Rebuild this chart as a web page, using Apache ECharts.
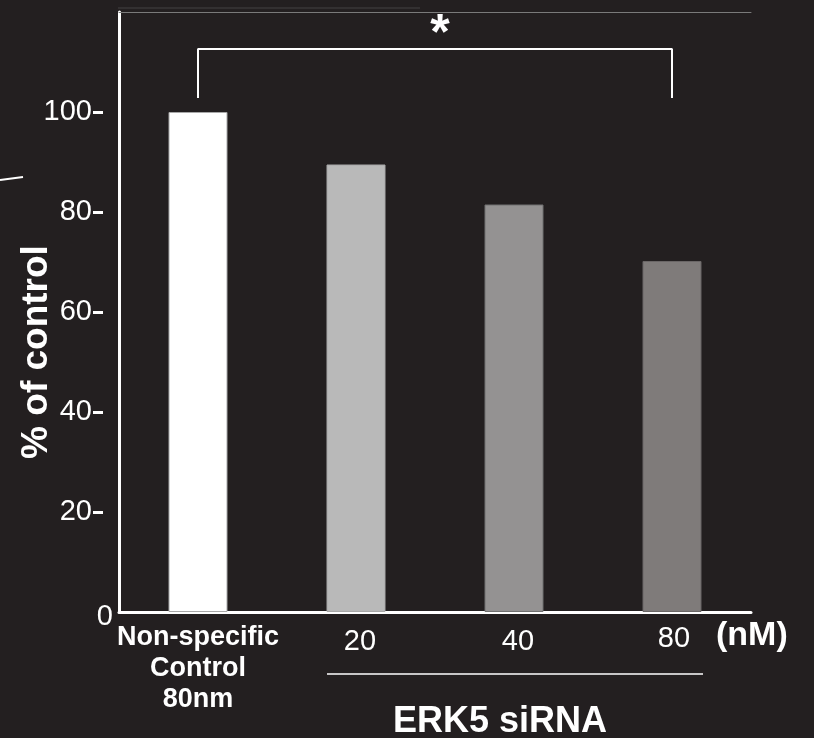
<!DOCTYPE html>
<html>
<head>
<meta charset="utf-8">
<script src="https://cdn.jsdelivr.net/npm/echarts@6/dist/echarts.min.js"></script>
<style>
html,body{margin:0;padding:0;background:#231f20;}
#c{width:814px;height:738px;}
</style>
</head>
<body>
<div id="c"></div>
<script>
const categories = ['Non-specific\nControl\n80nm', '20', '40', '80'];
const values = [100, 89.5, 81.5, 70.2];
const barColors = ['#ffffff', '#b9b9b9', '#949292', '#7f7b7a'];
const barBorders = ['#a8a8a8', '#a8a8a8', '#707070', '#6a6666'];
const yTicks = [20, 40, 60, 80, 100];
const yLabels = [20, 40, 60, 80, 100];
const bracket = [[0, 102.8], [0, 112.6], [3, 112.6], [3, 102.8]];
const sigText = '*';

const FONT = '"Liberation Sans", Arial, Helvetica, sans-serif';
const chart = echarts.init(document.getElementById('c'));

chart.setOption({
  backgroundColor: '#231f20',
  animation: false,
  grid: { left: 119, top: 12, width: 632, height: 600 },
  xAxis: [{
    type: 'category',
    data: categories,
    position: 'bottom',
    axisLine: { lineStyle: { color: '#ffffff', width: 3 } },
    axisTick: { show: false },
    axisLabel: {
      margin: 10,
      interval: 0,
      fontFamily: FONT,
      formatter: function (v, i) {
        if (i === 0) return '{a|' + v.split('\n').join('}\n{a|') + '}';
        if (i === 3) return '{c|' + v + '}';
        return '{b|' + v + '}';
      },
      rich: {
        a: { color: '#ffffff', fontSize: 27, fontWeight: 'bold', lineHeight: 31, fontFamily: FONT },
        b: { color: '#ffffff', fontSize: 29, lineHeight: 34, padding: [6, 0, 0, 8], fontFamily: FONT },
        c: { color: '#ffffff', fontSize: 29, lineHeight: 34, padding: [0, 0, 0, 4], fontFamily: FONT }
      }
    }
  }, {
    type: 'category',
    data: categories,
    position: 'top',
    axisLine: { onZero: false, lineStyle: { color: '#7a7a7a', width: 1 } },
    axisTick: { show: false },
    axisLabel: { show: false }
  }],
  yAxis: [{
    type: 'value',
    min: 0, max: 120, interval: 20,
    position: 'left',
    splitLine: { show: false },
    axisLine: { show: true, onZero: false, lineStyle: { color: '#ffffff', width: 3 } },
    axisTick: { show: false },
    axisLabel: {
      customValues: [0],
      margin: 6,
      color: '#ffffff', fontSize: 29, fontFamily: FONT,
      verticalAlign: 'top', padding: [-10, 0, 0, 0]
    }
  }, {
    type: 'value',
    min: 0, max: 120, interval: 20,
    position: 'left',
    offset: 16,
    splitLine: { show: false },
    axisLine: { show: false },
    axisTick: { show: true, length: 10, customValues: yTicks, lineStyle: { color: '#ffffff', width: 3 } },
    axisLabel: {
      customValues: yLabels,
      margin: 11,
      color: '#ffffff', fontSize: 29, fontFamily: FONT
    }
  }],
  series: [{
    type: 'bar',
    xAxisIndex: 0, yAxisIndex: 0,
    barWidth: 59,
    data: values.map((v, i) => ({
      value: v,
      itemStyle: { color: barColors[i], borderColor: barBorders[i], borderWidth: 1 }
    }))
  }, {
    type: 'line',
    xAxisIndex: 0, yAxisIndex: 0,
    data: bracket,
    symbol: 'none',
    lineStyle: { color: '#ffffff', width: 2 },
    z: 5
  }],
  graphic: [
    { type: 'text', x: 37, y: 352, rotation: Math.PI / 2,
      style: { text: '% of control', fill: '#ffffff', fontSize: 37, fontWeight: 'bold', fontFamily: FONT, align: 'center', verticalAlign: 'middle' } },
    { type: 'text', x: 440, y: 35, style: { text: sigText, fill: '#ffffff', fontSize: 50, fontWeight: 'bold', fontFamily: FONT, align: 'center', verticalAlign: 'middle' } },
    { type: 'text', left: 716, top: 619, style: { text: '(nM)', fill: '#ffffff', fontSize: 34, fontWeight: 'bold', fontFamily: FONT } },
    { type: 'line', shape: { x1: 327, y1: 674, x2: 703, y2: 674 }, style: { stroke: '#ffffff', lineWidth: 1.5 } },
    { type: 'text', left: 393, top: 704, style: { text: 'ERK5 siRNA', fill: '#ffffff', fontSize: 36, fontWeight: 'bold', fontFamily: FONT } },
    { type: 'line', shape: { x1: 0, y1: 180, x2: 23, y2: 177 }, style: { stroke: '#ffffff', lineWidth: 2 } },
    { type: 'line', shape: { x1: 118, y1: 8, x2: 420, y2: 8 }, style: { stroke: '#454243', lineWidth: 1 } }
  ]
});
</script>
</body>
</html>
